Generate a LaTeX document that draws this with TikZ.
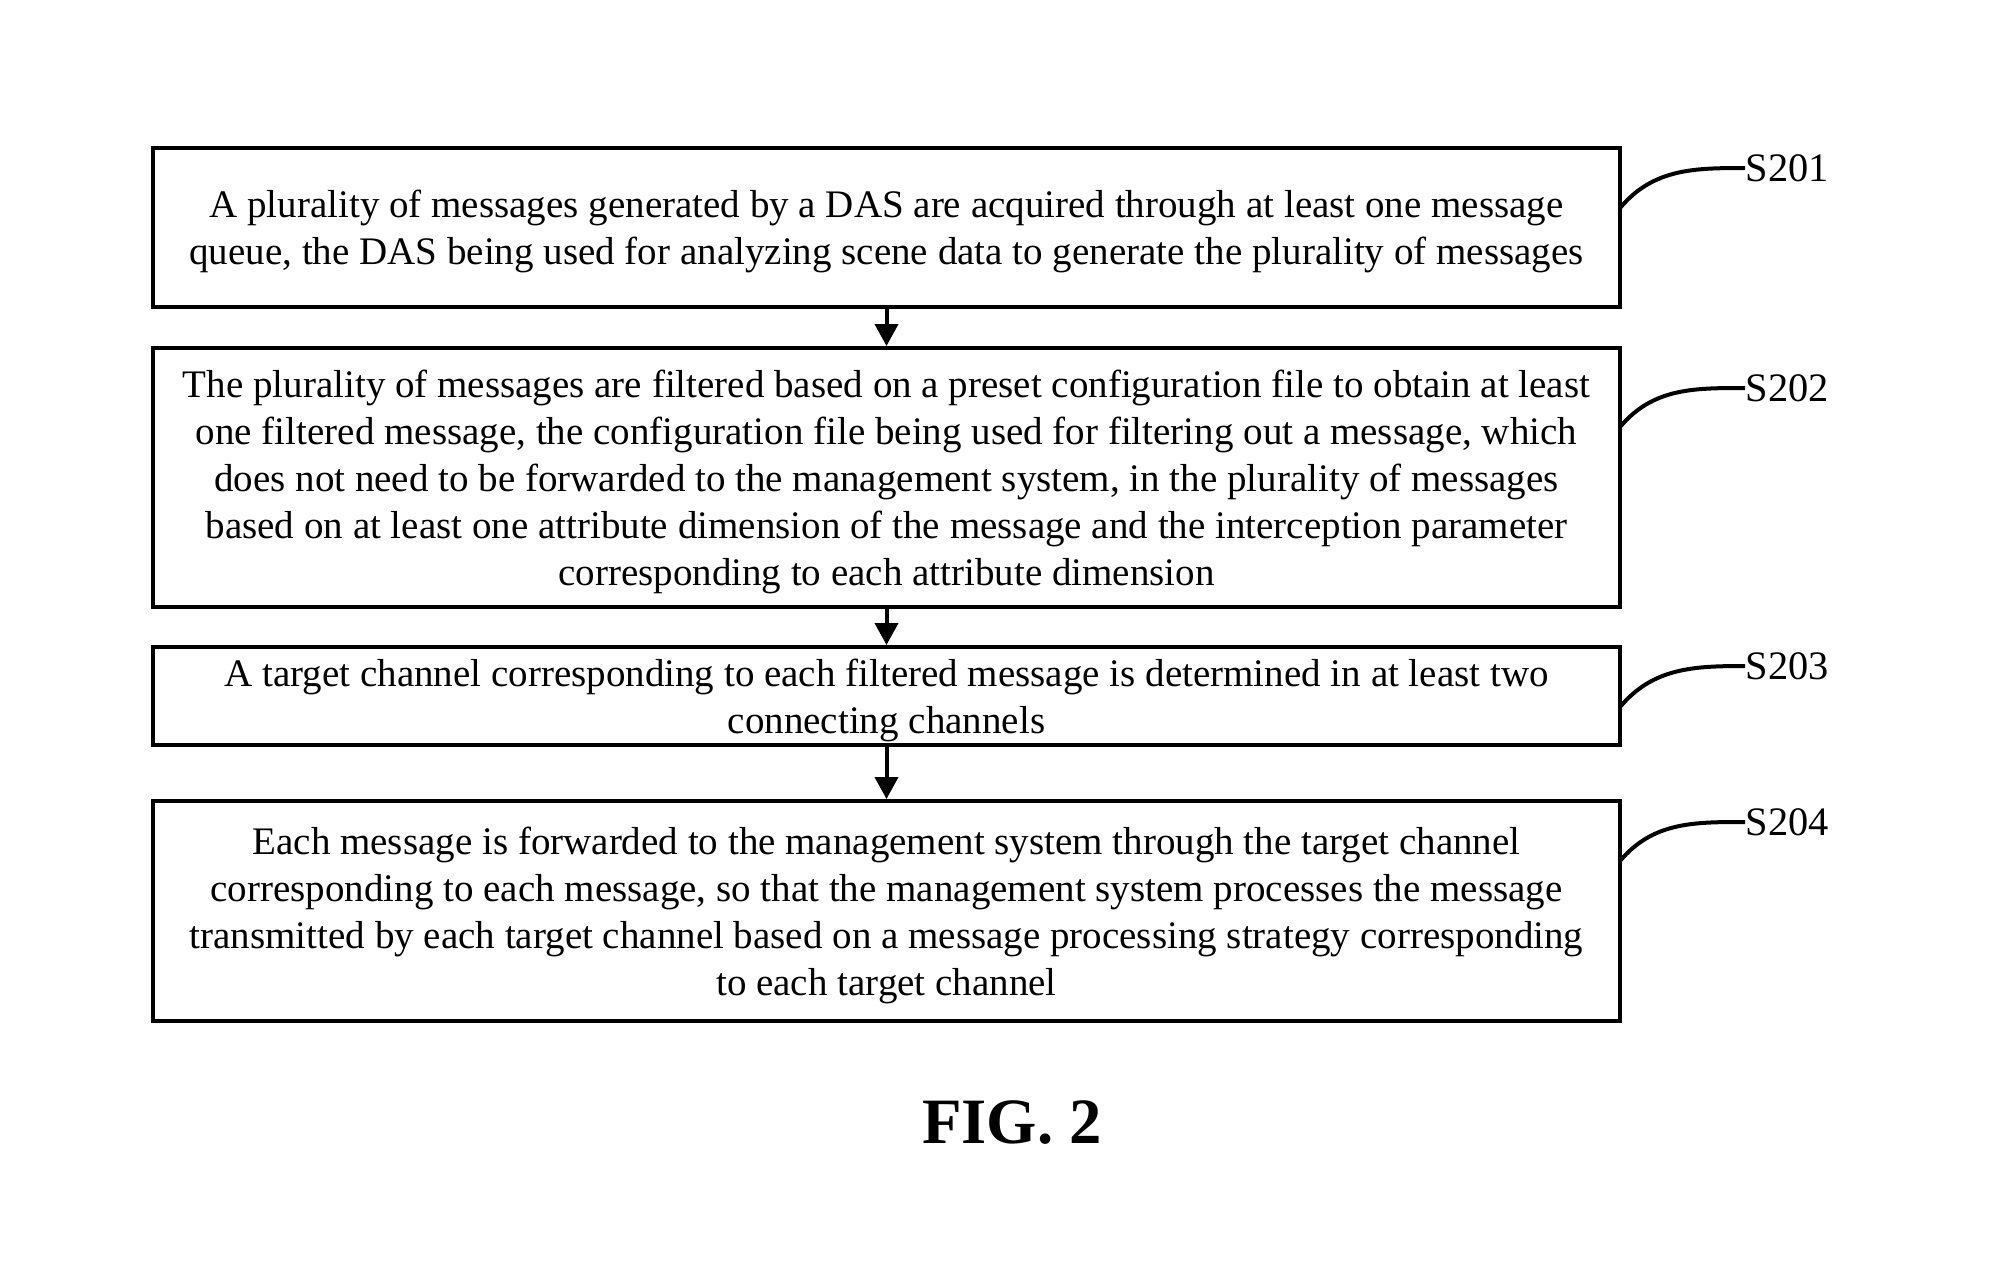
\documentclass[tikz,border=0pt]{standalone}
\usepackage{fontspec}
\setmainfont{Liberation Serif}
\usepackage{tikz}
\usetikzlibrary{arrows.meta}

\begin{document}
\begin{tikzpicture}[x=0.1mm, y=-0.1mm,
		box_style/.style={rectangle,draw=black,line width=0.4mm,minimum width=146.7mm,inner sep=0pt,text depth=0pt,align=center,font=\fontsize{11.1}{13.4}\selectfont},
		edge_style/.style={draw=black,line width=0.4mm,-{Triangle[width=2.3mm,length=2.2mm]}},
		tag_style/.style={anchor=west,inner sep=0pt,font=\fontsize{11.5}{13}\selectfont},
		curve_style/.style={draw=black,line width=0.4mm}]
		
		\useasboundingbox (0,0) rectangle (1990,1277);
		
		\node[box_style,minimum height=15.9mm] (s1) at (886.5,227.5) {A plurality of messages generated by a DAS are acquired through at least one message\\queue, the DAS being used for analyzing scene data to generate the plurality of messages};
		\node[box_style,minimum height=25.9mm] (s2) at (886.5,477.5) {The plurality of messages are filtered based on a preset configuration file to obtain at least\\one filtered message, the configuration file being used for filtering out a message, which\\does not need to be forwarded to the management system, in the plurality of messages\\based on at least one attribute dimension of the message and the interception parameter\\corresponding to each attribute dimension};
		\node[box_style,minimum height=9.8mm] (s3) at (886.5,696) {A target channel corresponding to each filtered message is determined in at least two\\connecting channels};
		\node[box_style,minimum height=22mm] (s4) at (886.5,911) {Each message is forwarded to the management system through the target channel\\corresponding to each message, so that the management system processes the message\\transmitted by each target channel based on a message processing strategy corresponding\\to each target channel};
		
		\node[tag_style] (t1) at (1745,168) {S201};
		\node[tag_style] (t2) at (1745,388) {S202};
		\node[tag_style] (t3) at (1745,666) {S203};
		\node[tag_style] (t4) at (1745,822) {S204};
		
		\coordinate (c1) at (1620,208);
		\coordinate (c2) at (1620,427);
		\coordinate (c3) at (1620,707);
		\coordinate (c4) at (1620,861);
		
		\draw[edge_style]  (s1) -- (s2);
		\draw[edge_style]  (s2) -- (s3);
		\draw[edge_style]  (s3) -- (s4);
		
		\draw[curve_style]  (c1) to[out=50,in=180] (t1.west);
		\draw[curve_style]  (c2) to[out=50,in=180] (t2.west);
		\draw[curve_style]  (c3) to[out=50,in=180] (t3.west);
		\draw[curve_style]  (c4) to[out=50,in=180] (t4.west);
		
		\node[anchor=base,inner sep=0pt,font=\bfseries\fontsize{18.4}{20}\selectfont] (fig) at (1012,1143) {FIG. 2};
		
\end{tikzpicture}
\end{document}
